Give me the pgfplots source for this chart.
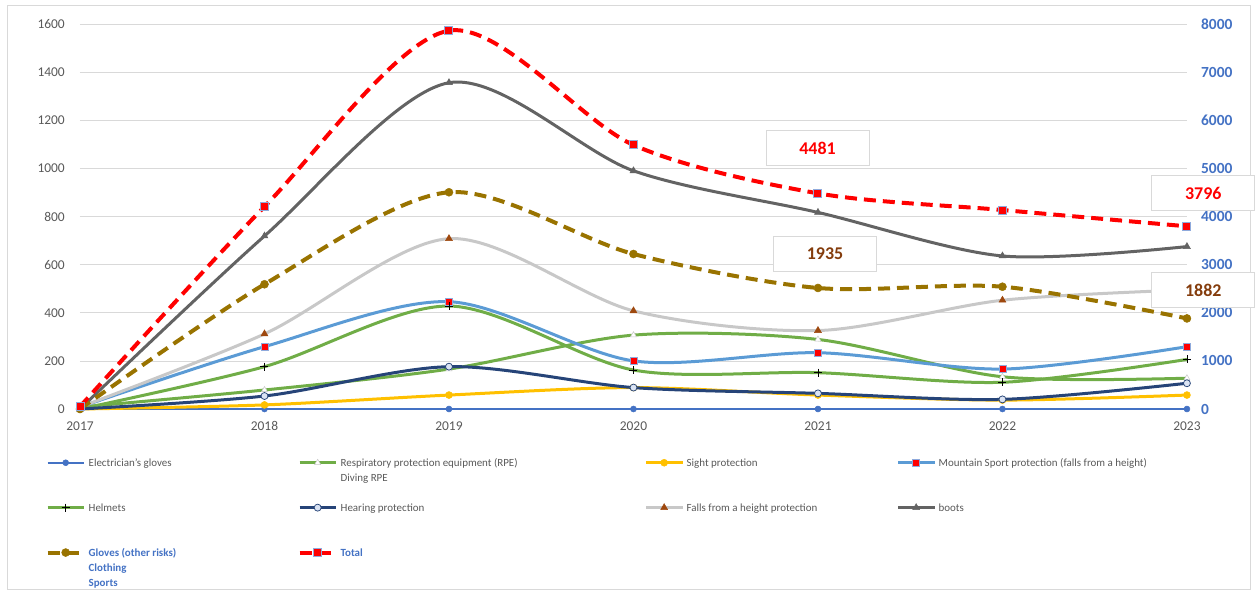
\documentclass[border=0pt]{standalone}
\usepackage{pgfplots}
\pgfplotsset{compat=1.18}
\usepackage{fontspec}
\setmainfont{Carlito}
\definecolor{txtgrey}{HTML}{595959}
\definecolor{gridgrey}{HTML}{D9D9D9}
\definecolor{xlblue}{HTML}{4472C4}
\definecolor{mtblue}{HTML}{5B9BD5}
\definecolor{xlgreen}{HTML}{70AD47}
\definecolor{xlyellow}{HTML}{FFC000}
\definecolor{navy}{HTML}{264478}
\definecolor{lightgr}{HTML}{C8C8C8}
\definecolor{falls}{HTML}{9E480E}
\definecolor{boots}{HTML}{636363}
\definecolor{gold}{HTML}{997300}
\definecolor{sqedge}{HTML}{8FAADC}
\definecolor{lblbrown}{HTML}{843C0C}
\pgfplotsset{
  sElec/.style={smooth, xlblue, line width=2bp, mark=*, mark size=3bp, mark options={solid, fill=xlblue, draw=xlblue, line width=0.5bp}},
  sRPE/.style={smooth, xlgreen, line width=3bp, mark=triangle*, mark size=3.5bp, mark options={solid, fill=white, draw=lightgr, line width=0.5bp}},
  sSight/.style={smooth, xlyellow, line width=3bp, mark=*, mark size=3.5bp, mark options={solid, fill=xlyellow, draw=xlyellow, line width=0.5bp}},
  sMount/.style={smooth, mtblue, line width=3bp, mark=square*, mark size=3.5bp, mark options={solid, fill=red, draw=sqedge, line width=0.75bp}},
  sHelm/.style={smooth, xlgreen, line width=3bp, mark=+, mark size=4bp, mark options={solid, draw=black, line width=0.75bp}},
  sHear/.style={smooth, navy, line width=3bp, mark=*, mark size=3.5bp, mark options={solid, fill=white!80!xlblue, draw=navy, line width=0.75bp}},
  sFalls/.style={smooth, lightgr, line width=3bp, mark=triangle*, mark size=4bp, mark options={solid, fill=falls, draw=falls, line width=0.5bp}},
  sBoots/.style={smooth, boots, line width=3bp, mark=triangle*, mark size=4bp, mark options={solid, fill=boots, draw=boots, line width=0.5bp}},
  sGlov/.style={smooth, gold, line width=4bp, dash pattern=on 12bp off 7bp, mark=*, mark size=4bp, mark options={solid, fill=gold, draw=gold, line width=0.5bp}},
  sTot/.style={smooth, red, line width=4bp, dash pattern=on 12bp off 7bp, mark=square*, mark size=4bp, mark options={solid, fill=red, draw=sqedge, line width=1bp}},
}
\newcommand{\LE}[2]{\raisebox{0pt}[9bp][3bp]{\parbox[t]{#1}{\leavevmode#2}}}
\begin{document}
\begin{tikzpicture}
\path[use as bounding box] (0,0) rectangle (1257bp,-590bp);
\draw[gridgrey, line width=0.75bp] (7bp,-5bp) rectangle (1250bp,-589bp);
\begin{axis}[
  at={(80bp,-409bp)}, anchor=south west,
  scale only axis, width=1107bp, height=385bp,
  xmin=2017, xmax=2023, ymin=0, ymax=1600,
  xtick={2017,2018,2019,2020,2021,2022,2023},
  xticklabels={2017,2018,2019,2020,2021,2022,2023},
  ytick={0,200,...,1600},
  axis line style={draw=none}, major tick length=0pt,
  ymajorgrids, grid style={gridgrey, line width=0.75bp},
  clip=false,
  /pgf/number format/1000 sep={},
  /pgf/number format/assume math mode=true,
  xticklabel style={font=\fontsize{13.5}{16}\selectfont, text=txtgrey, anchor=north, inner sep=0pt, yshift=-12.5bp},
  yticklabel style={font=\fontsize{13.5}{16}\selectfont, text=txtgrey, anchor=east, inner sep=0pt, xshift=-15bp},
  legend columns=4,
  legend style={at={(axis description cs:-0.031,-0.1266)}, anchor=north west, draw=none, fill=none,
     inner sep=0pt, outer sep=0pt, column sep=3bp, row sep=34.4bp,
     font=\fontsize{11}{15}\selectfont, text=txtgrey,
     nodes={inner sep=0pt, outer sep=0pt},
     cells={anchor=base west, inner sep=0pt, outer sep=0pt}},
  legend image code/.code={\draw[mark repeat=2, mark phase=2, #1] plot coordinates {(0bp,4bp) (18bp,4bp) (36bp,4bp)};},
]
\addplot[sElec] coordinates {(2017,0) (2018,0) (2019,0) (2020,0) (2021,0) (2022,0) (2023,0)};
\addlegendentry{\LE{206bp}{Electrician's gloves}}
\addplot[sRPE] coordinates {(2017,8) (2018,79) (2019,166) (2020,307) (2021,289) (2022,134) (2023,128)};
\addlegendentry{\LE{301bp}{Respiratory protection equipment (RPE)\newline Diving RPE}}
\addplot[sSight] coordinates {(2017,0) (2018,17) (2019,58) (2020,89) (2021,58) (2022,37) (2023,58)};
\addlegendentry{\LE{207bp}{Sight protection}}
\addplot[sMount] coordinates {(2017,8) (2018,259) (2019,446) (2020,200) (2021,234) (2022,166) (2023,259)};
\addlegendentry{\LE{260bp}{Mountain Sport protection (falls from a height)}}
\addplot[sHelm] coordinates {(2017,0) (2018,176) (2019,428) (2020,162) (2021,151) (2022,111) (2023,206)};
\addlegendentry{\LE{206bp}{Helmets}}
\addplot[sHear] coordinates {(2017,0) (2018,54) (2019,176) (2020,89) (2021,65) (2022,40) (2023,107)};
\addlegendentry{\LE{301bp}{Hearing protection}}
\addplot[sFalls] coordinates {(2017,8) (2018,312) (2019,708) (2020,408) (2021,326) (2022,452) (2023,495)};
\addlegendentry{\LE{207bp}{Falls from a height protection}}
\addplot[sBoots] coordinates {(2017,0) (2018,719) (2019,1356) (2020,990) (2021,817) (2022,636) (2023,675)};
\addlegendentry{\LE{260bp}{boots}}
\addlegendimage{sGlov}
\addlegendentry{\LE{206bp}{\color{xlblue}\bfseries Gloves (other risks)\newline Clothing\newline Sports}}
\addlegendimage{sTot}
\addlegendentry{\LE{301bp}{\color{xlblue}\bfseries Total}}
\end{axis}
\begin{axis}[
  at={(80bp,-409bp)}, anchor=south west,
  scale only axis, width=1107bp, height=385bp,
  xmin=2017, xmax=2023, ymin=0, ymax=8000,
  axis x line=none, axis y line*=right,
  ytick={0,1000,...,8000},
  axis line style={draw=none}, major tick length=0pt,
  clip=false,
  /pgf/number format/1000 sep={},
  /pgf/number format/assume math mode=true,
  yticklabel style={font=\fontsize{15.5}{18}\selectfont\bfseries, text=xlblue, anchor=west, inner sep=0pt, xshift=14bp},
]
\addplot[sGlov] coordinates {(2017,0) (2018,2592) (2019,4504) (2020,3221) (2021,2515) (2022,2541) (2023,1882)};
\addplot[sTot] coordinates {(2017,50) (2018,4205) (2019,7862) (2020,5486) (2021,4481) (2022,4135) (2023,3796)};
\end{axis}
\tikzset{lbox/.style={draw=gridgrey, line width=0.75bp, fill=white, minimum width=103bp, minimum height=35bp, inner sep=0pt, font=\fontsize{18}{20}\selectfont\bfseries}}
\node[lbox, text=red] at (817.5bp,-148.3bp) {4481};
\node[lbox, text=lblbrown] at (825bp,-253.7bp) {1935};
\node[lbox, text=red] at (1203.3bp,-193bp) {3796};
\node[lbox, text=lblbrown] at (1203.3bp,-290bp) {1882};
\end{tikzpicture}
\end{document}
